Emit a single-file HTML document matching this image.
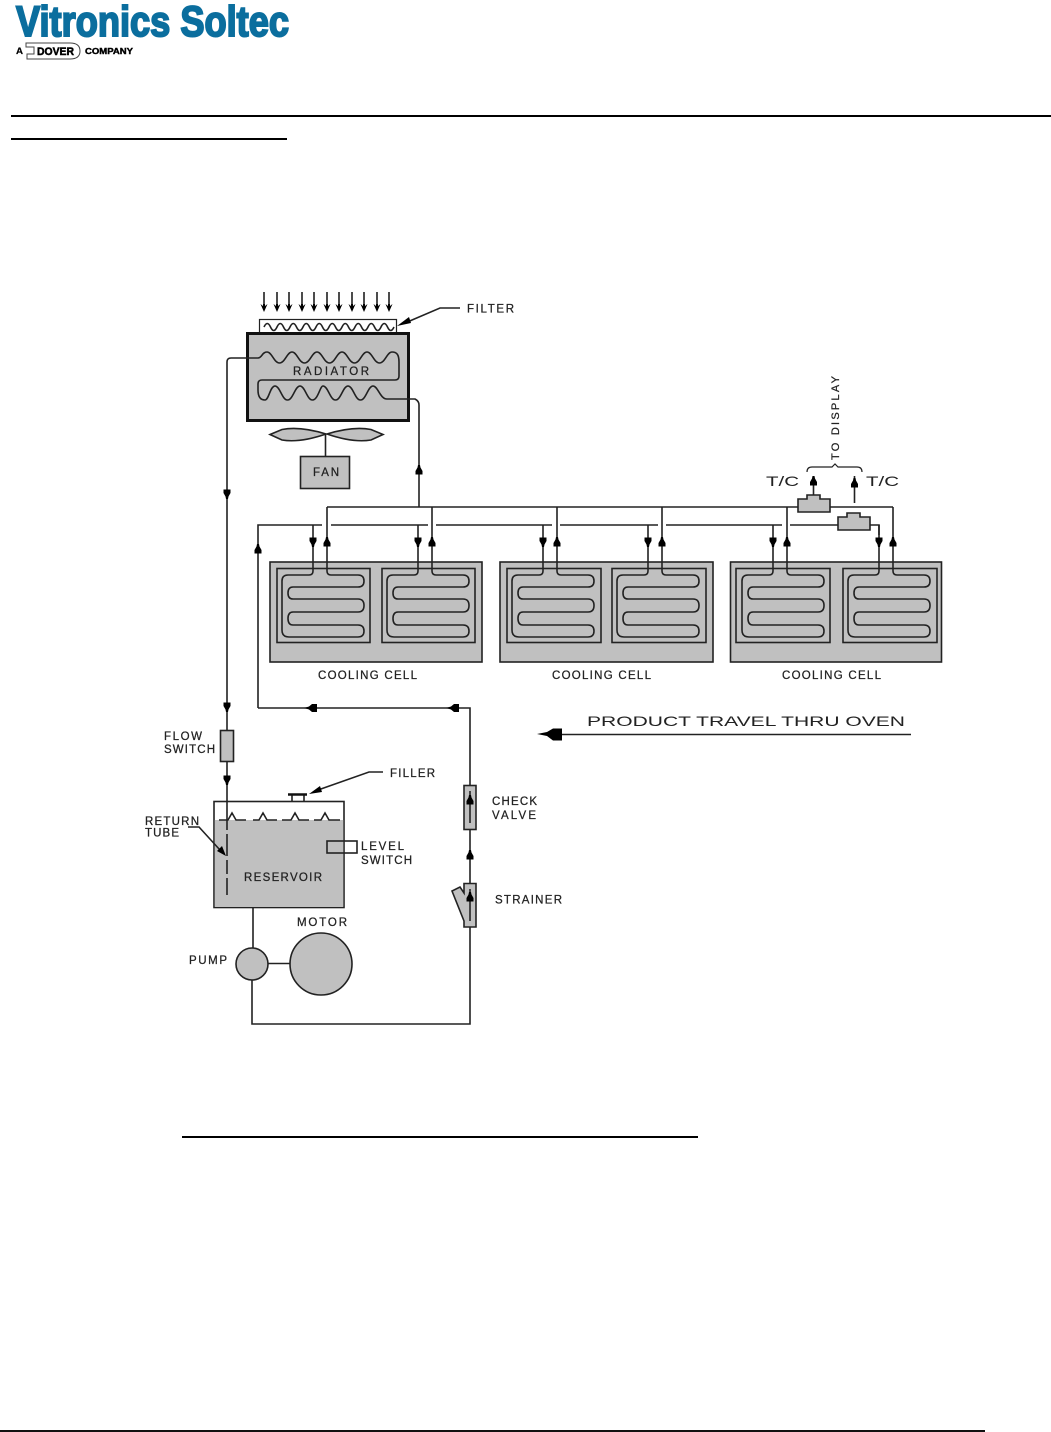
<!DOCTYPE html>
<html><head><meta charset="utf-8"><style>
html,body{margin:0;padding:0;background:#fff}
svg{display:block;filter:blur(.3px)}
text{font-family:"Liberation Sans",sans-serif;fill:#222;font-size:11.5px;stroke:#222;stroke-width:.25}
.l{fill:none;stroke:#222;stroke-width:1.6}
.b{fill:#c0c0c0;stroke:#222;stroke-width:1.6}
.w{fill:#fff;stroke:#222;stroke-width:1.6}
</style></head><body>
<svg width="1051" height="1432" viewBox="0 0 1051 1432" xmlns="http://www.w3.org/2000/svg">
<defs>
<path id="ad" d="M-3.500 -4.500H3.500V-1L1.500 2.500L1 5H-1L-1.500 2.500L-3.500 -1Z" fill="#000"/>
<path id="au" d="M-3.500 4.500H3.500V1L1.500 -2.500L1 -5H-1L-1.500 -2.500L-3.500 1Z" fill="#000"/>
<path id="al" d="M-7 0L-2 -1.500L1 -4H6V4H1L-2 1.500Z" fill="#000"/>
<g id="tiny"><path d="M0 -10V2" stroke="#111" stroke-width="1.5"/><path d="M-3.500 2L0 10L3.500 2L1 4V2H-1V4Z" fill="#000"/></g>
<g id="coil">
<path class="l" d="M313 525V571Q313 575 309 575H288Q282 575 282 581V630Q282 637 289 637H358Q364 637 364 631Q364 625 358 625H293Q288 625 288 618.500Q288 612 293 612H358Q364 612 364 605.500Q364 599 358 599H293Q288 599 288 593Q288 587 293 587H358Q364 587 364 581Q364 575 358 575H331Q327 575 327 571V507"/>
<use href="#ad" x="313" y="542"/><use href="#au" x="327" y="542"/>
</g>
</defs>

<!-- header logo -->
<text x="16" y="36" textLength="273" lengthAdjust="spacingAndGlyphs" style="font-size:43px;font-weight:bold;fill:#0b6e9e;stroke:#0b6e9e;stroke-width:2">Vitronics Soltec</text>
<text x="16" y="54" textLength="7" lengthAdjust="spacingAndGlyphs" style="font-size:9px;font-weight:bold;fill:#000">A</text>
<path d="M26 43H70Q80 43 80 51Q80 59 70 59H27V54H34V47H26Z" fill="#fff" stroke="#444" stroke-width="1"/>
<text x="37" y="55" textLength="37" lengthAdjust="spacingAndGlyphs" style="font-size:11px;font-weight:bold;fill:#000;stroke:#000;stroke-width:.5">DOVER</text>
<text x="85" y="54" textLength="48" lengthAdjust="spacingAndGlyphs" style="font-size:8.500px;font-weight:bold;fill:#000;stroke:#000;stroke-width:.4">COMPANY</text>

<!-- page rules -->
<rect x="11" y="115" width="1040" height="2" fill="#000"/>
<rect x="11" y="138" width="276" height="2" fill="#000"/>
<rect x="182" y="1136" width="516" height="2" fill="#000"/>
<rect x="0" y="1430" width="985" height="2" fill="#111"/>

<!-- intake arrows -->
<use href="#tiny" x="264" y="302"/><use href="#tiny" x="277" y="302"/><use href="#tiny" x="289" y="302"/><use href="#tiny" x="302" y="302"/><use href="#tiny" x="314" y="302"/><use href="#tiny" x="327" y="302"/><use href="#tiny" x="339" y="302"/><use href="#tiny" x="352" y="302"/><use href="#tiny" x="364" y="302"/><use href="#tiny" x="377" y="302"/><use href="#tiny" x="389" y="302"/>

<!-- filter -->
<rect x="259.500" y="319.500" width="137" height="14" fill="#fff" stroke="#222" stroke-width="1.2"/>
<path class="l" d="M264 327q3.250 -7 6.500 0t6.500 0t6.500 0t6.500 0t6.500 0t6.500 0t6.500 0t6.500 0t6.500 0t6.500 0t6.500 0t6.500 0t6.500 0t6.500 0t6.500 0t6.500 0t6.500 0t6.500 0t6.500 0t6.500 0"/>
<path class="l" d="M460 308H440L405 323"/>
<path d="M397 326L409 317L411 323Z" fill="#000"/>
<text x="467" y="312.500" textLength="47" lengthAdjust="spacing">FILTER</text>

<!-- radiator -->
<rect x="247.500" y="333.500" width="161" height="87" fill="#c0c0c0" stroke="#111" stroke-width="3"/>
<path class="l" d="M227 500V362Q227 358 231 358H258C262 358 262 352 267 352c5 0 7 11 12.500 11c5.500 0 7.500 -11 12.500 -11c5 0 7 11 12.500 11c5.500 0 7.500 -11 12.500 -11c5 0 7 11 12.500 11c5.500 0 7.500 -11 12.500 -11c5 0 7 11 12.500 11c5.500 0 7.500 -11 12.500 -11c5 0 7 11 12.500 11c5.500 0 7.500 -11 12.500 -11c5 0 7 3 7 10v14q0 4 -4 4H262q-4 0 -4 4v6q0 10 7 10c4 0 5 -14 10 -14c5 0 7 14 12.500 14c5.500 0 7.500 -14 12.500 -14c5 0 7 14 12.500 14c5.500 0 7.500 -14 10.500 -14c5 0 7 14 12.500 14c5.500 0 7.500 -14 12.500 -14c5 0 7 14 12.500 14c5.500 0 7.500 -14 12.500 -14c5 0 7 13 14 13H415Q419 401 419 405V507"/>
<text x="293" y="375" textLength="76" lengthAdjust="spacing">RADIATOR</text>
<path class="b" d="M270 434.500L282 429.500Q300 426 326 434Q300 443 282 440Z"/>
<path class="b" d="M383 434.500L371 429.500Q353 426 327 434Q353 443 371 440Z"/>
<path class="l" d="M325.500 434V456"/>
<rect class="b" x="300.500" y="456.500" width="49" height="32"/>
<text x="313" y="476" textLength="26" lengthAdjust="spacing">FAN</text>
<use href="#au" x="419" y="470"/>

<!-- manifold -->
<path class="l" d="M327 507H798M830 507H893"/>
<path class="l" d="M258 708V525H322M331 525H428M436 525H552M560 525H658M666 525H782M790 525H838M870 525H879V535"/>
<use href="#au" x="258" y="549"/>

<!-- cooling cells -->
<rect class="b" x="270" y="562" width="212" height="100"/>
<rect class="b" x="500" y="562" width="213" height="100"/>
<rect class="b" x="730.500" y="562" width="211" height="100"/>
<rect class="b" x="277" y="568.500" width="93" height="74"/>
<rect class="b" x="382" y="568.500" width="93" height="74"/>
<rect class="b" x="507" y="568.500" width="94" height="74"/>
<rect class="b" x="612" y="568.500" width="94" height="74"/>
<rect class="b" x="736" y="568.500" width="94" height="74"/>
<rect class="b" x="843" y="568.500" width="94" height="74"/>
<use href="#coil"/>
<use href="#coil" x="105"/>
<use href="#coil" x="230"/>
<use href="#coil" x="335"/>
<use href="#coil" x="460"/>
<use href="#coil" x="566"/>
<text x="318" y="679" textLength="99" lengthAdjust="spacing">COOLING CELL</text>
<text x="552" y="679" textLength="99" lengthAdjust="spacing">COOLING CELL</text>
<text x="782" y="679" textLength="99" lengthAdjust="spacing">COOLING CELL</text>

<!-- thermocouples -->
<path class="b" d="M798 499H807V495H820V499H830V512H798Z"/>
<path class="b" d="M838 517H847V513H860V517H870V530H838Z"/>
<path class="l" d="M813.500 495V476M854.500 503V476"/>
<use href="#au" x="813.500" y="481"/><use href="#au" x="854.500" y="483"/>
<path class="l" d="M807 472Q807 467 812 467H832L835 464L838 467H857Q862 467 862 472" style="stroke-width:1.2"/>
<text x="766" y="486" textLength="33" lengthAdjust="spacingAndGlyphs" style="font-size:14px;stroke-width:0">T/C</text>
<text x="866" y="486" textLength="33" lengthAdjust="spacingAndGlyphs" style="font-size:14px;stroke-width:0">T/C</text>
<text transform="translate(839,460) rotate(-90)" textLength="84" lengthAdjust="spacing" style="font-size:11px">TO DISPLAY</text>

<!-- return to reservoir -->
<use href="#ad" x="227" y="494"/>
<path class="l" d="M227 500V730"/>
<use href="#ad" x="227" y="707"/>
<rect class="b" x="220.500" y="730.500" width="13" height="31"/>
<path class="l" d="M227 761V802"/>
<use href="#ad" x="227" y="780"/>

<!-- flow line -->
<path class="l" d="M258 708H470V785"/>
<use href="#al" x="311" y="708"/><use href="#al" x="453" y="708"/>
<rect class="b" x="464" y="785.500" width="12" height="44"/>
<path class="l" d="M470 791V823"/>
<use href="#au" x="470" y="800"/>
<path class="l" d="M470 829V883"/>
<use href="#au" x="470" y="855"/>
<path class="b" d="M464 883.500H476V927H464V921L452 891L460 887L464 893Z"/>
<path class="l" d="M470 889V921"/>
<use href="#au" x="470" y="897"/>
<path class="l" d="M470 927V1024H252V980"/>
<text x="492" y="805" textLength="45" lengthAdjust="spacing">CHECK</text>
<text x="492" y="819" textLength="44" lengthAdjust="spacing">VALVE</text>
<text x="495" y="903.500" textLength="67" lengthAdjust="spacing">STRAINER</text>

<!-- product travel -->
<path class="l" d="M555 734.500H911"/>
<path d="M537 734L547 732L553 728.500H562V740.500H553L547 736Z" fill="#000"/>
<text x="587" y="726" textLength="318" lengthAdjust="spacingAndGlyphs" style="font-size:14px;stroke-width:0">PRODUCT TRAVEL THRU OVEN</text>

<!-- reservoir -->
<rect x="214" y="801.500" width="130" height="106" fill="#fff" stroke="#222" stroke-width="1.6"/>
<rect x="214.800" y="820" width="128.400" height="87" fill="#c0c0c0"/>
<path class="l" d="M219 820H228L232 813L236 820H246M253 820H259L263 813L267 820H277M282 820H291L295 813L299 820H309M314 820H321L325 813L329 820H340"/>
<path class="l" d="M227 802V830M227 834V856M227 860V874M227 878V895"/>
<path class="l" d="M292 795V801M304 795V801"/>
<path d="M288 794.500H307" stroke="#111" stroke-width="2.500"/>
<path class="l" d="M383 772H369L318 790"/>
<path d="M309 794L320 786L322 792Z" fill="#000"/>
<text x="390" y="777" textLength="45" lengthAdjust="spacing">FILLER</text>
<path class="l" d="M188 827H199L220 850"/>
<path d="M226 856L217 851L222 846Z" fill="#000"/>
<text x="145" y="825" textLength="54" lengthAdjust="spacing">RETURN</text>
<text x="145" y="836.500" textLength="34" lengthAdjust="spacing">TUBE</text>
<text x="164" y="740" textLength="38" lengthAdjust="spacing">FLOW</text>
<text x="164" y="753" textLength="51" lengthAdjust="spacing">SWITCH</text>
<rect x="327" y="841" width="30" height="12" fill="none" stroke="#222" stroke-width="1.600"/>
<text x="361" y="850" textLength="43" lengthAdjust="spacing">LEVEL</text>
<text x="361" y="864" textLength="51" lengthAdjust="spacing">SWITCH</text>
<text x="244" y="881" textLength="78" lengthAdjust="spacing">RESERVOIR</text>

<!-- pump and motor -->
<path class="l" d="M253 907V948M268 963.500H290"/>
<circle class="b" cx="252" cy="964" r="16"/>
<circle class="b" cx="321" cy="964" r="31"/>
<text x="297" y="926" textLength="50" lengthAdjust="spacing">MOTOR</text>
<text x="189" y="964" textLength="38" lengthAdjust="spacing">PUMP</text>
</svg>
</body></html>
